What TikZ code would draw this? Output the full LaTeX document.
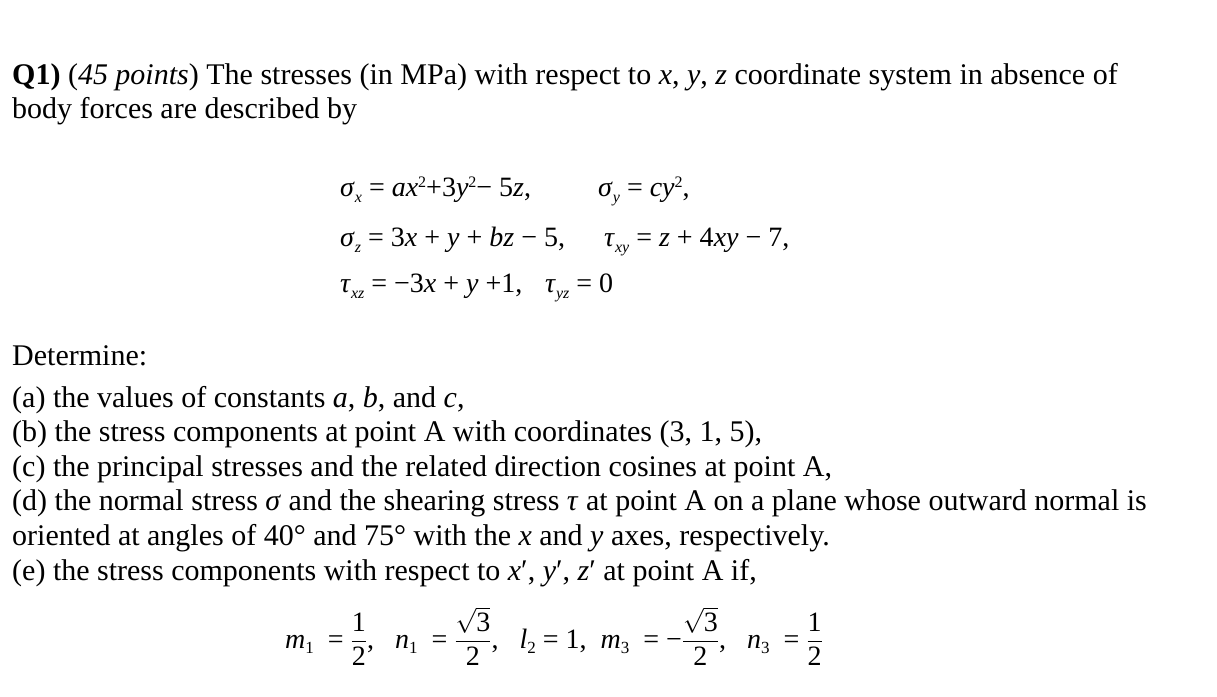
\documentclass[tikz,border=0pt]{standalone}
\usepackage{fontspec}
\usepackage{amsmath}
\setmainfont{Liberation Serif}
\newcommand\vi[1]{\textit{#1}}
\newcommand\sub[1]{\raisebox{-0.4ex}{\fontsize{16}{16}\selectfont\textit{#1}}}
\newcommand\subn[1]{\raisebox{-0.4ex}{\fontsize{17}{17}\selectfont #1}}
\newcommand\sq{\raisebox{0.75ex}{\fontsize{16}{16}\selectfont 2}}
\newcommand\fr[2]{$\dfrac{\text{#1}}{\text{#2}}$}
\begin{document}
\begin{tikzpicture}[x=1pt,y=1pt,
  tx/.style={anchor=base west,inner sep=0,font=\fontsize{30}{34}\selectfont},
  eq/.style={anchor=base west,inner sep=0,font=\fontsize{28}{32}\selectfont}]
\useasboundingbox (0,0) rectangle (1217,696);
\fill[white] (0,0) rectangle (1217,696);
\node[tx] (l1) at (12,611) {\textbf{Q1)} (\vi{45 points}) The stresses (in MPa) with respect to \vi{x}, \vi{y}, \vi{z} coordinate system in absence of};
\node[tx] (l2) at (12,577) {body forces are described by};
\node[eq] (e1a) at (340,499) {\vi{σ}\sub{x} = \vi{ax}\sq +3\vi{y}\sq − 5\vi{z},};
\node[eq] (e1b) at (598,499) {\vi{σ}\sub{y} = \vi{cy}\sq,};
\node[eq] (e2a) at (340,449) {\vi{σ}\sub{z} = 3\vi{x} + \vi{y} + \vi{bz} − 5,};
\node[eq] (e2b) at (604,449) {\vi{τ}\sub{xy} = \vi{z} + 4\vi{xy} − 7,};
\node[eq] (e3a) at (340,403) {\vi{τ}\sub{xz} = −3\vi{x} + \vi{y} +1,};
\node[eq] (e3b) at (545,403) {\vi{τ}\sub{yz} = 0};
\node[tx] (d0) at (12,330) {Determine:};
\node[tx] (da) at (12,288) {(a) the values of constants \vi{a}, \vi{b}, and \vi{c},};
\node[tx] (db) at (12,254) {(b) the stress components at point A with coordinates (3, 1, 5),};
\node[tx] (dc) at (12,219) {(c) the principal stresses and the related direction cosines at point A,};
\node[tx] (dd) at (12,185) {(d) the normal stress \vi{σ} and the shearing stress \vi{τ} at point A on a plane whose outward normal is};
\node[tx] (dd2) at (12,150) {oriented at angles of 40° and 75° with the \vi{x} and \vi{y} axes, respectively.};
\node[tx] (de) at (12,116) {(e) the stress components with respect to \vi{x}′, \vi{y}′, \vi{z}′ at point A if,};
\node[eq] (f1) at (285,48) {\vi{m}\subn{1} \ = \fr{1}{2}, \ \ \vi{n}\subn{1} \ = \fr{$\sqrt{\text{3}}$}{2}, \ \ \vi{l}\subn{2} = 1, \ \vi{m}\subn{3} \ = −\fr{$\sqrt{\text{3}}$}{2}, \ \ \vi{n}\subn{3} \ = \fr{1}{2}};
\end{tikzpicture}
\end{document}
